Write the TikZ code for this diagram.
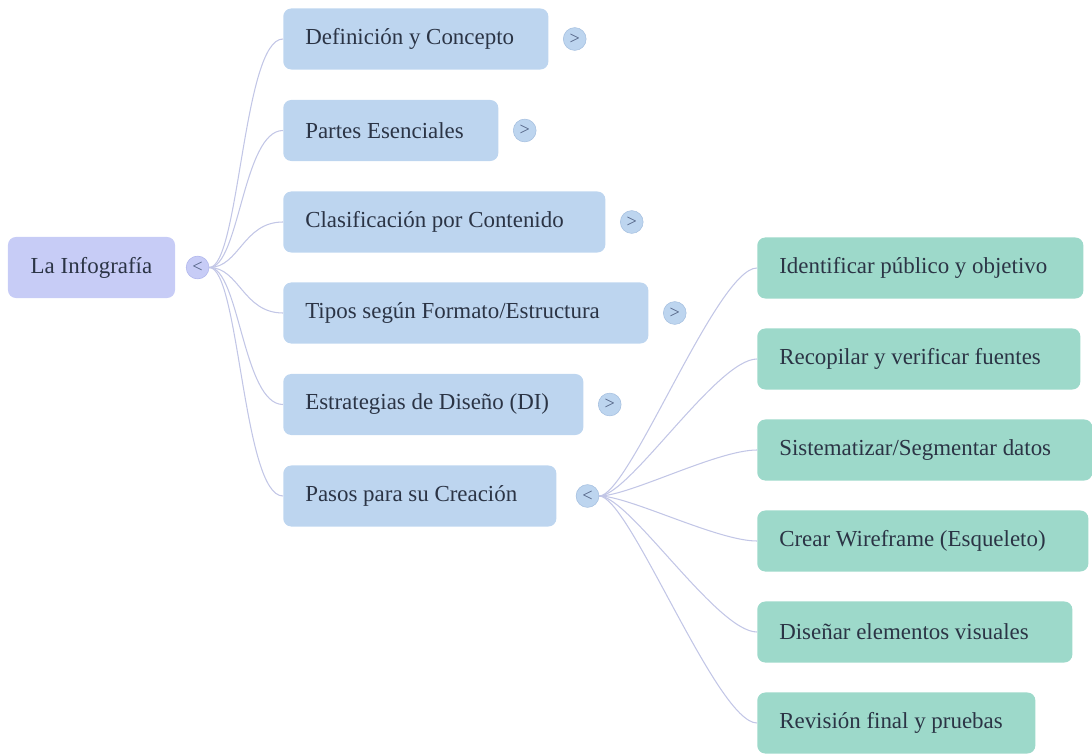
\documentclass[tikz,border=0pt]{standalone}
\usepackage{fontspec}
\setmainfont{Liberation Serif}
\usetikzlibrary{positioning}
\definecolor{rootfill}{RGB}{199,204,246}
\definecolor{rootline}{RGB}{176,182,236}
\definecolor{branchfill}{RGB}{189,213,239}
\definecolor{branchline}{RGB}{166,192,224}
\definecolor{stepfill}{RGB}{157,217,202}
\definecolor{textink}{RGB}{43,52,69}
\definecolor{toggleink}{RGB}{80,96,130}
\definecolor{linkline}{RGB}{194,198,230}
\tikzset{
  rootbox/.style={rectangle,rounded corners=0.2cm,fill=rootfill,text=textink,minimum width=4.175cm,minimum height=1.525cm,font=\fontsize{16.3}{19}\selectfont},
  branchbox/.style={rectangle,rounded corners=0.2cm,fill=branchfill,text=textink,align=flush left,inner xsep=0.55cm,minimum height=1.525cm,anchor=west,font=\fontsize{16.3}{19}\selectfont},
  stepbox/.style={branchbox,fill=stepfill},
  toggle/.style={circle,fill=branchfill,draw=branchline,text=toggleink,minimum size=0.57cm,inner sep=0pt,font=\fontsize{13}{13}\selectfont},
  link/.style={draw=linkline,line width=0.75pt}
}

\begin{document}
\begin{tikzpicture}[x=0.025cm,y=-0.025cm]
  \useasboundingbox (0,0) rectangle (1092,754);
  \node[rootbox] (root) at (91.5,267.5) {La Infografía};
  \node[toggle,fill=rootfill,draw=rootline,right=0.265cm of root] (rootc) {<};

  \node[branchbox,text width=5.525cm] (def) at (283,39) {Definición y Concepto};
  \node[branchbox,text width=4.275cm] (partes) at (283,130.5) {Partes Esenciales};
  \node[branchbox,text width=6.95cm] (clas) at (283,222) {Clasificación por Contenido};
  \node[branchbox,text width=8.025cm] (tipos) at (283,313) {Tipos según Formato/Estructura};
  \node[branchbox,text width=6.4cm] (estr) at (283,404.5) {Estrategias de Diseño (DI)};
  \node[branchbox,text width=5.725cm] (pasos) at (283,496) {Pasos para su Creación};

  \node[toggle,right=0.36cm of def] (defc) {>};
  \node[toggle,right=0.36cm of partes] (partesc) {>};
  \node[toggle,right=0.36cm of clas] (clasc) {>};
  \node[toggle,right=0.36cm of tipos] (tiposc) {>};
  \node[toggle,right=0.36cm of estr] (estrc) {>};
  \node[toggle,right=0.48cm of pasos] (pasosc) {<};

  \node[stepbox,text width=7.05cm] (publico) at (757,268) {Identificar público y objetivo};
  \node[stepbox,text width=6.975cm] (fuentes) at (757,359) {Recopilar y verificar fuentes};
  \node[stepbox,text width=7.275cm] (datos) at (757,450) {Sistematizar/Segmentar datos};
  \node[stepbox,text width=7.175cm] (wire) at (757,541) {Crear Wireframe (Esqueleto)};
  \node[stepbox,text width=6.775cm] (visual) at (757,632) {Diseñar elementos visuales};
  \node[stepbox,text width=5.85cm] (prueba) at (757,723) {Revisión final y pruebas};

  \foreach \b in {def,partes,clas,tipos,estr,pasos}
    \draw[link] (rootc.east) .. controls +(30,0) and +(-40,0) .. (\b.west);
  \foreach \s in {publico,fuentes,datos,wire,visual,prueba}
    \draw[link] (pasosc.east) .. controls +(30,0) and +(-40,0) .. (\s.west);
\end{tikzpicture}
\end{document}
